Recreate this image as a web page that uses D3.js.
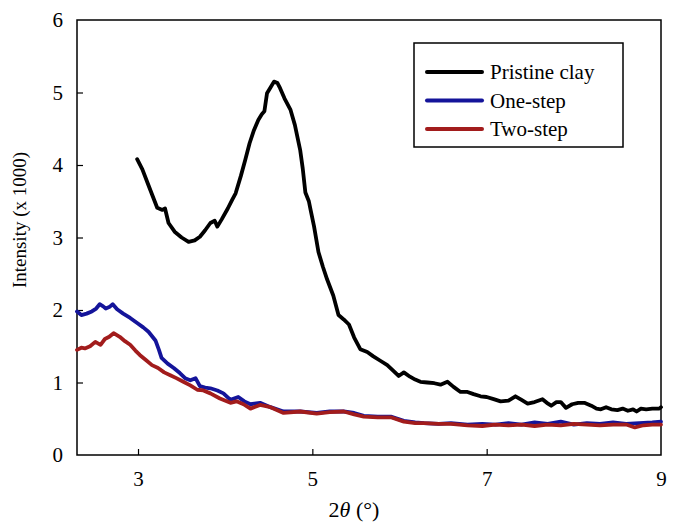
<!DOCTYPE html>
<html>
<head>
<meta charset="utf-8">
<script src="https://cdn.jsdelivr.net/npm/d3@7"></script>
<style>
  html, body { margin: 0; padding: 0; background: #fff; }
  svg { display: block; }
  text { font-family: "Liberation Serif", "Times New Roman", serif; fill: #000; }
</style>
</head>
<body>
<svg id="chart" width="673" height="524"></svg>
<script>
// ---- data ----
const xTicks = [3, 5, 7, 9];
const yTicks = [0, 1, 2, 3, 4, 5, 6];
const seriesNames = ["Pristine clay", "One-step", "Two-step"];
const seriesColors = ["#000000", "#14149a", "#a21c1c"];

const pristineX = [2.99, 3.05, 3.12, 3.22, 3.28, 3.31, 3.35, 3.42, 3.5, 3.58, 3.65, 3.71, 3.77, 3.83, 3.88, 3.91, 3.96, 4.03, 4.08, 4.12, 4.18, 4.23, 4.28, 4.33, 4.38, 4.42, 4.45, 4.48, 4.52, 4.56, 4.6, 4.63, 4.68, 4.75, 4.8, 4.86, 4.89, 4.92, 4.96, 4.98, 5.02, 5.07, 5.12, 5.17, 5.24, 5.3, 5.36, 5.42, 5.48, 5.55, 5.63, 5.7, 5.78, 5.86, 5.93, 5.99, 6.05, 6.12, 6.18, 6.24, 6.32, 6.4, 6.47, 6.55, 6.62, 6.7, 6.78, 6.85, 6.93, 7.0, 7.08, 7.16, 7.25, 7.33, 7.4, 7.47, 7.55, 7.64, 7.69, 7.74, 7.8, 7.85, 7.91, 7.98, 8.05, 8.12, 8.2, 8.26, 8.31, 8.37, 8.43, 8.5, 8.56, 8.62, 8.68, 8.72, 8.77, 8.83, 8.9, 8.98, 9.0];
const pristineY = [4.08, 3.94, 3.72, 3.41, 3.38, 3.40, 3.2, 3.08, 3.0, 2.94, 2.96, 3.01, 3.1, 3.2, 3.23, 3.15, 3.25, 3.4, 3.52, 3.61, 3.85, 4.07, 4.3, 4.48, 4.62, 4.7, 4.74, 4.99, 5.07, 5.15, 5.13, 5.06, 4.92, 4.76, 4.55, 4.21, 3.95, 3.62, 3.5, 3.38, 3.15, 2.8, 2.6, 2.42, 2.2, 1.93, 1.87, 1.8, 1.62, 1.46, 1.42, 1.36, 1.3, 1.24, 1.16, 1.09, 1.14, 1.08, 1.04, 1.01, 1.0, 0.99, 0.97, 1.01, 0.94, 0.87, 0.87, 0.84, 0.81, 0.8, 0.77, 0.74, 0.75, 0.81, 0.76, 0.71, 0.73, 0.77, 0.72, 0.68, 0.73, 0.73, 0.65, 0.7, 0.72, 0.72, 0.68, 0.64, 0.63, 0.66, 0.63, 0.62, 0.64, 0.61, 0.63, 0.6, 0.64, 0.63, 0.64, 0.64, 0.66];

const oneStepX = [2.3, 2.35, 2.41, 2.47, 2.52, 2.56, 2.6, 2.63, 2.67, 2.71, 2.76, 2.83, 2.91, 2.99, 3.06, 3.12, 3.2, 3.24, 3.27, 3.34, 3.41, 3.48, 3.54, 3.6, 3.66, 3.71, 3.77, 3.83, 3.91, 3.98, 4.06, 4.15, 4.22, 4.29, 4.4, 4.52, 4.67, 4.86, 5.05, 5.2, 5.36, 5.48, 5.59, 5.75, 5.9, 6.05, 6.18, 6.28, 6.45, 6.59, 6.78, 6.95, 7.1, 7.25, 7.4, 7.55, 7.7, 7.85, 8.0, 8.15, 8.3, 8.45, 8.6, 8.75, 8.9, 9.0];
const oneStepY = [1.98, 1.93, 1.95, 1.98, 2.02, 2.08, 2.05, 2.02, 2.04, 2.08, 2.01, 1.95, 1.89, 1.82, 1.76, 1.70, 1.58, 1.45, 1.34, 1.26, 1.2, 1.13, 1.06, 1.03, 1.06, 0.95, 0.93, 0.92, 0.89, 0.85, 0.76, 0.8, 0.74, 0.7, 0.72, 0.66, 0.6, 0.6, 0.58, 0.6, 0.6, 0.58, 0.54, 0.53, 0.53, 0.47, 0.45, 0.44, 0.43, 0.44, 0.42, 0.43, 0.42, 0.44, 0.42, 0.45, 0.43, 0.46, 0.42, 0.44, 0.43, 0.45, 0.43, 0.44, 0.45, 0.46];

const twoStepX = [2.3, 2.35, 2.39, 2.45, 2.51, 2.57, 2.62, 2.67, 2.72, 2.79, 2.85, 2.91, 2.97, 3.02, 3.09, 3.16, 3.23, 3.3, 3.37, 3.44, 3.52, 3.6, 3.68, 3.75, 3.83, 3.94, 4.06, 4.13, 4.21, 4.29, 4.4, 4.52, 4.67, 4.86, 5.05, 5.2, 5.36, 5.48, 5.59, 5.75, 5.9, 6.05, 6.18, 6.28, 6.45, 6.59, 6.78, 6.95, 7.1, 7.25, 7.4, 7.55, 7.7, 7.85, 8.0, 8.15, 8.3, 8.45, 8.6, 8.7, 8.8, 8.9, 9.0];
const twoStepY = [1.45, 1.48, 1.47, 1.5, 1.56, 1.52, 1.6, 1.63, 1.68, 1.63, 1.57, 1.52, 1.44, 1.38, 1.31, 1.24, 1.2, 1.14, 1.1, 1.06, 1.01, 0.96, 0.9, 0.89, 0.85, 0.78, 0.72, 0.74, 0.7, 0.64, 0.69, 0.66, 0.58, 0.6, 0.57, 0.59, 0.6, 0.56, 0.53, 0.52, 0.52, 0.46, 0.44, 0.44, 0.43, 0.43, 0.41, 0.4, 0.42, 0.41, 0.42, 0.4, 0.42, 0.41, 0.43, 0.42, 0.41, 0.42, 0.42, 0.38, 0.41, 0.42, 0.42];

// ---- layout ----
const svg = d3.select("#chart");
const m = { left: 77, right: 661, top: 20, bottom: 455 };
const x = d3.scaleLinear().domain([2.3, 9]).range([m.left, m.right]);
const y = d3.scaleLinear().domain([0, 6]).range([m.bottom, m.top]);

// frame
svg.append("rect")
  .attr("x", m.left).attr("y", m.top)
  .attr("width", m.right - m.left).attr("height", m.bottom - m.top)
  .attr("fill", "none").attr("stroke", "#000").attr("stroke-width", 1.5);

// axes (inward ticks)
const xAxis = d3.axisBottom(x).tickValues(xTicks).tickSize(-6).tickPadding(16).tickFormat(d3.format("d"));
const yAxis = d3.axisLeft(y).tickValues(yTicks).tickSize(-6).tickPadding(14).tickFormat(d3.format("d"));

const gx = svg.append("g").attr("transform", `translate(0,${m.bottom})`).call(xAxis);
const gy = svg.append("g").attr("transform", `translate(${m.left},0)`).call(yAxis);
[gx, gy].forEach(g => {
  g.select(".domain").remove();
  g.selectAll(".tick line").attr("stroke", "#000").attr("stroke-width", 1.2);
  g.selectAll(".tick text").style("font-size", "21px").style("font-family", "Liberation Serif, serif").attr("fill", "#000");
});
gx.selectAll(".tick").filter(d => d === 9).select("line").remove();
gy.selectAll(".tick").filter(d => d === 0 || d === 6).select("line").remove();

// axis labels
svg.append("text")
  .attr("transform", `translate(26,220) rotate(-90)`)
  .attr("text-anchor", "middle")
  .style("font-size", "19px")
  .text("Intensity (x 1000)");

const xl = svg.append("text")
  .attr("x", 354).attr("y", 517)
  .attr("text-anchor", "middle")
  .style("font-size", "22px");
xl.append("tspan").text("2");
xl.append("tspan").style("font-style", "italic").text("θ");
xl.append("tspan").text(" (°)");

// lines
const series = [
  { xs: pristineX, ys: pristineY },
  { xs: oneStepX, ys: oneStepY },
  { xs: twoStepX, ys: twoStepY }
];
const line = d3.line().x(d => x(d[0])).y(d => y(d[1]));
[1, 2, 0].forEach(i => {
  const s = series[i];
  const pts = s.xs.map((v, k) => [v, s.ys[k]]);
  svg.append("path")
    .datum(pts)
    .attr("d", line)
    .attr("fill", "none")
    .attr("stroke", seriesColors[i])
    .attr("stroke-width", 3.8)
    .attr("stroke-linejoin", "round")
    .attr("stroke-linecap", "round");
});

// legend
const lg = svg.append("g");
lg.append("rect")
  .attr("x", 414).attr("y", 43).attr("width", 209).attr("height", 104)
  .attr("fill", "#fff").attr("stroke", "#000").attr("stroke-width", 1.5);
seriesNames.forEach((name, i) => {
  const cy = 72 + i * 28.5;
  lg.append("line")
    .attr("x1", 427).attr("x2", 482).attr("y1", cy).attr("y2", cy)
    .attr("stroke", seriesColors[i]).attr("stroke-width", 4).attr("stroke-linecap", "round");
  lg.append("text")
    .attr("x", 490).attr("y", cy).attr("dy", "0.35em")
    .style("font-size", "21px")
    .text(name);
});
</script>
</body>
</html>
